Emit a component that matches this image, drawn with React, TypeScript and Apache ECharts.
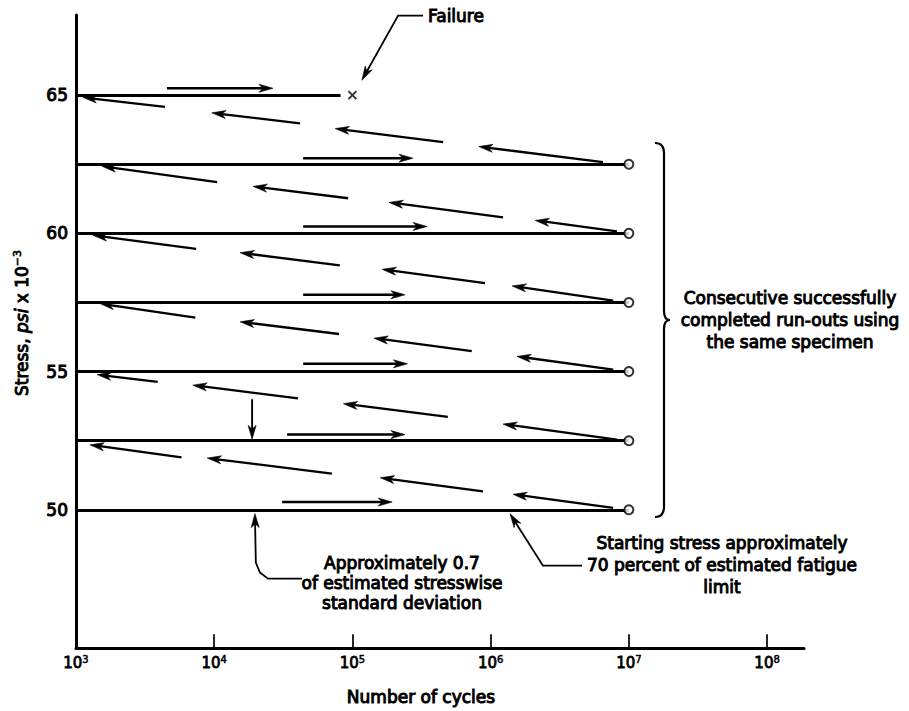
import React, { useEffect, useRef } from "react";
import * as echarts from "echarts";

const FONT = '"DejaVu Sans", sans-serif';
const INK = "#000";

// ---- data (cycles on log axis, stress in ksi) ----
const runOutLevels = [50, 52.5, 55, 57.5, 60, 62.5];
const runOutSpan = [1e3, 1e7];
const failureLevel = 65;
const failureSpan = [1e3, 8.2e4];
const failureCycles = 1e5;

// forward (cycling) arrows above each level: [fromCycles, toCycles, stress]
const forwardArrows = [
  [3.1e4, 1.94e5, 50.28],
  [3.37e4, 2.4e5, 52.72],
  [4.4e4, 2.5e5, 55.28],
  [4.4e4, 2.4e5, 57.78],
  [4.4e4, 3.47e5, 60.25],
  [4.4e4, 2.74e5, 62.72],
  [4.55e3, 2.66e4, 65.25],
];

// return arrows to next stress level: [fromCycles, fromStress, toCycles, toStress]
const returnArrows = [
  [7.7e6, 50.07, 1.45e6, 50.56],
  [8.8e5, 50.67, 1.59e5, 51.16],
  [7.1e4, 51.31, 8.9e3, 51.87],
  [5.8e3, 51.9, 1.26e3, 52.35],
  [8.2e6, 52.54, 1.23e6, 53.1],
  [4.9e5, 53.36, 8.6e4, 53.84],
  [4.04e4, 54.03, 7.0e3, 54.51],
  [3.9e3, 54.63, 1.42e3, 54.89],
  [7.7e6, 55.07, 1.55e6, 55.55],
  [7.3e5, 55.74, 1.43e5, 56.21],
  [8.0e4, 56.36, 1.54e4, 56.8],
  [7.3e3, 56.95, 1.49e3, 57.46],
  [7.7e6, 57.57, 1.43e6, 58.1],
  [9.1e5, 58.2, 1.64e5, 58.7],
  [8.1e4, 58.84, 1.54e4, 59.3],
  [7.4e3, 59.44, 1.33e3, 59.93],
  [8.2e6, 60.07, 2.1e6, 60.47],
  [1.23e6, 60.58, 1.84e5, 61.12],
  [9.3e4, 61.27, 1.91e4, 61.7],
  [1.05e4, 61.85, 1.54e3, 62.43],
  [6.5e6, 62.58, 8.2e5, 63.14],
  [4.53e5, 63.3, 7.5e4, 63.79],
  [4.18e4, 63.98, 9.6e3, 64.36],
  [4.4e3, 64.58, 1.12e3, 64.92],
];

const stepArrow = [
  [1.88e4, 54.0],
  [1.88e4, 52.55],
];
const failureLeader = [
  [3.24e5, 67.88],
  [2.14e5, 67.88],
  [1.17e5, 65.54],
];
const deviationLeader = [
  [4.31e4, 47.51],
  [2.45e4, 47.51],
  [2.14e4, 47.73],
  [2.0e4, 48.09],
  [1.97e4, 49.86],
];
const startLeader = [
  [4.58e6, 47.98],
  [2.39e6, 47.98],
  [1.38e6, 49.86],
];

const decadeTicks = [1e4, 1e5, 1e6, 1e7, 1e8];
const tickTop = 45.5;
const xRange = [1e3, 1.85e8];
const yRange = [45, 67.9];
const yLabels = [50, 55, 60, 65];

const failureText = "Failure";
const runoutText = "Consecutive successfully\ncompleted run-outs using\nthe same specimen";
const deviationText = "Approximately 0.7\nof estimated stresswise\nstandard deviation";
const startText = "Starting stress approximately\n70 percent of estimated fatigue\nlimit";
const xName = "Number of cycles";

// ---- arrows as point lists + stroke width ----
type Arrow = { pts: number[][]; w: number };
const arrows: Arrow[] = [
  ...forwardArrows.map(([a, b, s]) => ({ pts: [[a, s], [b, s]], w: 2.5 })),
  ...returnArrows.map(([x1, y1, x2, y2]) => ({ pts: [[x1, y1], [x2, y2]], w: 2.3 })),
  { pts: stepArrow, w: 1.9 },
  { pts: failureLeader, w: 1.8 },
  { pts: deviationLeader, w: 1.8 },
  { pts: startLeader, w: 1.8 },
];

const BRACE_D =
  "M655,143 Q664,143 664,153 L664,311 Q664,320 670,320 Q664,320 664,329 L664,507 Q664,517 655,517";
echarts.graphic.registerShape("brace", echarts.graphic.extendPath(BRACE_D, {}));

const SW = 1.0;
const textStyle = (size = 17) => ({
  fontSize: size,
  fontFamily: FONT,
  fill: INK,
  stroke: INK,
  lineWidth: SW,
});

const HEAD_LEN = 14;
const HEAD_W = 8;

function renderArrow(params: any, api: any) {
  const a = arrows[params.dataIndex];
  const p = a.pts.map((q) => api.coord(q));
  const tip = p[p.length - 1];
  const prev = p[p.length - 2];
  let dx = tip[0] - prev[0];
  let dy = tip[1] - prev[1];
  const len = Math.sqrt(dx * dx + dy * dy) || 1;
  dx /= len;
  dy /= len;
  const nx = -dy;
  const ny = dx;
  const bx = tip[0] - dx * HEAD_LEN;
  const by = tip[1] - dy * HEAD_LEN;
  const mx = tip[0] - dx * HEAD_LEN * 0.72;
  const my = tip[1] - dy * HEAD_LEN * 0.72;
  const linePts = p.slice(0, -1).concat([[mx, my]]);
  return {
    type: "group",
    children: [
      {
        type: "polyline",
        shape: { points: linePts },
        style: { stroke: INK, lineWidth: a.w, fill: null },
      },
      {
        type: "polygon",
        shape: {
          points: [
            tip,
            [bx + (nx * HEAD_W) / 2, by + (ny * HEAD_W) / 2],
            [mx, my],
            [bx - (nx * HEAD_W) / 2, by - (ny * HEAD_W) / 2],
          ],
        },
        style: { fill: INK, stroke: INK, lineWidth: 0.6 },
      },
    ],
  };
}

export default function App() {
  const ref = useRef<HTMLDivElement>(null);
  useEffect(() => {
    document.body.style.margin = "0";
    const chart = echarts.init(ref.current!, null, { renderer: "svg" });
    const option: any = {
      animation: false,
      backgroundColor: "#fff",
      grid: {
        left: 76,
        right: 105,
        top: 15,
        bottom: 63,
        containLabel: false,
        outerBoundsMode: "none",
      },
      xAxis: {
        type: "log",
        logBase: 10,
        min: xRange[0],
        max: xRange[1],
        axisLine: { show: true, onZero: false, lineStyle: { color: INK, width: 3 } },
        axisTick: { show: false },
        minorTick: { show: false },
        splitLine: { show: false },
        axisLabel: {
          margin: 6,
          formatter: (v: number) => {
            const e = Math.round(Math.log10(v));
            if (Math.abs(v - Math.pow(10, e)) > 1e-6 * v) return "";
            return `{b|10}{e|${e}}`;
          },
          rich: {
            b: {
              fontSize: 15,
              fontFamily: FONT,
              color: INK,
              lineHeight: 18,
              textBorderColor: INK,
              textBorderWidth: 0.8,
            },
            e: {
              fontSize: 10,
              fontFamily: FONT,
              color: INK,
              lineHeight: 11,
              verticalAlign: "top",
              textBorderColor: INK,
              textBorderWidth: 0.5,
            },
          },
        },
      },
      yAxis: {
        type: "value",
        min: yRange[0],
        max: yRange[1],
        interval: 5,
        axisLine: { show: true, onZero: false, lineStyle: { color: INK, width: 3 } },
        axisTick: { show: false },
        splitLine: { show: false },
        axisLabel: {
          margin: 8,
          fontSize: 17,
          fontFamily: FONT,
          color: INK,
          textBorderColor: INK,
          textBorderWidth: 1.0,
          formatter: (v: number) => (yLabels.indexOf(v) >= 0 ? String(v) : ""),
        },
      },
      series: [
        {
          name: "levels",
          type: "lines",
          coordinateSystem: "cartesian2d",
          clip: false,
          silent: true,
          symbol: "none",
          lineStyle: { color: INK, width: 2.8, opacity: 1 },
          data: [
            ...runOutLevels.map((l) => ({
              coords: [
                [runOutSpan[0], l],
                [runOutSpan[1], l],
              ],
            })),
            {
              coords: [
                [failureSpan[0], failureLevel],
                [failureSpan[1], failureLevel],
              ],
            },
          ],
          z: 2,
        },
        {
          name: "ticks",
          type: "lines",
          coordinateSystem: "cartesian2d",
          clip: false,
          silent: true,
          symbol: "none",
          lineStyle: { color: INK, width: 1.7, opacity: 1 },
          data: decadeTicks.map((t) => ({
            coords: [
              [t, yRange[0]],
              [t, tickTop],
            ],
          })),
        },
        {
          name: "arrows",
          type: "custom",
          coordinateSystem: "cartesian2d",
          silent: true,
          clip: false,
          renderItem: renderArrow,
          data: arrows.map((a) => a.pts[0]),
          z: 3,
        },
        {
          name: "runouts",
          type: "scatter",
          silent: true,
          symbol: "emptyCircle",
          symbolSize: 9,
          itemStyle: { color: INK, borderColor: INK, borderWidth: 1.8 },
          data: runOutLevels.map((l) => [runOutSpan[1], l]),
          z: 5,
        },
        {
          name: "failure",
          type: "scatter",
          silent: true,
          symbol: "path://M0,0L10,10M10,0L0,10",
          symbolSize: 8,
          itemStyle: { color: "none", borderColor: INK, borderWidth: 2 },
          data: [[failureCycles, failureLevel]],
          z: 5,
        },
      ],
      graphic: [
        {
          type: "brace",
          x: 0,
          y: 0,
          silent: true,
          style: { stroke: INK, fill: "none", lineWidth: 2.2 },
        },
        {
          type: "text",
          x: 428,
          y: 16,
          silent: true,
          style: { ...textStyle(17), text: failureText, align: "left", verticalAlign: "middle" },
        },
        {
          type: "text",
          x: 790,
          y: 287,
          silent: true,
          style: { ...textStyle(17), text: runoutText, align: "center", verticalAlign: "top", lineHeight: 22 },
        },
        {
          type: "text",
          x: 402,
          y: 553,
          silent: true,
          style: { ...textStyle(17), text: deviationText, align: "center", verticalAlign: "top", lineHeight: 20 },
        },
        {
          type: "text",
          x: 722,
          y: 532,
          silent: true,
          style: { ...textStyle(17), text: startText, align: "center", verticalAlign: "top", lineHeight: 22 },
        },
        {
          type: "text",
          x: 421,
          y: 697,
          silent: true,
          style: { ...textStyle(17), text: xName, align: "center", verticalAlign: "middle" },
        },
        {
          type: "text",
          x: 22,
          y: 323,
          rotation: Math.PI / 2,
          silent: true,
          style: {
            text: "{n|Stress, }{i|psi}{n| x 10}{s|−3}",
            align: "center",
            verticalAlign: "middle",
            rich: {
              n: { fontSize: 17, fontFamily: FONT, fill: INK, stroke: INK, lineWidth: SW, lineHeight: 20 },
              i: {
                fontSize: 17,
                fontFamily: FONT,
                fontStyle: "italic",
                fill: INK,
                stroke: INK,
                lineWidth: SW,
                lineHeight: 20,
              },
              s: {
                fontSize: 11,
                fontFamily: FONT,
                fill: INK,
                stroke: INK,
                lineWidth: 0.6,
                lineHeight: 12,
                verticalAlign: "top",
              },
            },
          },
        },
      ],
    };
    chart.setOption(option);
    return () => chart.dispose();
  }, []);
  return <div ref={ref} style={{ width: 909, height: 711, background: "#fff" }} />;
}
